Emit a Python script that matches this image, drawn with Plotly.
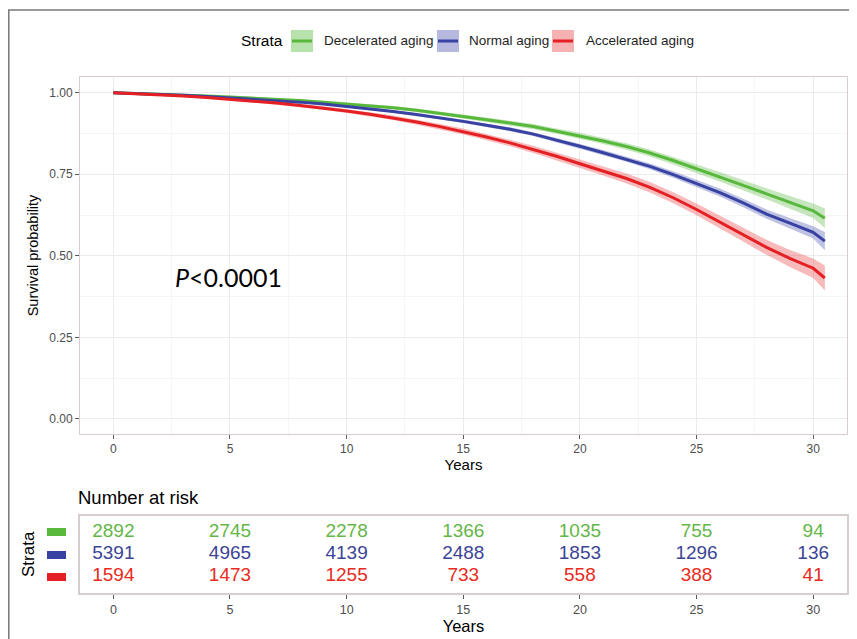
import plotly.graph_objects as go

# ---------------- data ----------------
years = [0, 1, 2, 3, 4, 5, 6, 7, 8, 9, 10, 11, 12, 13, 14, 15, 16, 17, 18, 19, 20,
         21, 22, 23, 24, 25, 26, 27, 28, 29, 30, 30.5]

surv_decel = [1.000, 0.998, 0.996, 0.993, 0.990, 0.987, 0.984, 0.980, 0.976, 0.971, 0.966,
              0.960, 0.954, 0.946, 0.937, 0.927, 0.917, 0.907, 0.896, 0.882, 0.868,
              0.852, 0.835, 0.815, 0.792, 0.767, 0.743, 0.716, 0.690, 0.664, 0.638, 0.615]
surv_normal = [1.000, 0.998, 0.995, 0.992, 0.988, 0.984, 0.980, 0.976, 0.971, 0.965, 0.958,
               0.951, 0.942, 0.933, 0.923, 0.912, 0.900, 0.888, 0.873, 0.855, 0.836,
               0.816, 0.796, 0.774, 0.749, 0.722, 0.694, 0.662, 0.628, 0.600, 0.572, 0.545]
surv_accel = [1.000, 0.997, 0.994, 0.990, 0.985, 0.980, 0.974, 0.968, 0.961, 0.953, 0.944,
              0.934, 0.923, 0.910, 0.896, 0.881, 0.864, 0.846, 0.826, 0.805, 0.782,
              0.760, 0.737, 0.710, 0.678, 0.642, 0.604, 0.565, 0.526, 0.492, 0.462, 0.432]

# half widths of the confidence bands
ci_decel = [0, 0.001, 0.001, 0.002, 0.002, 0.003, 0.003, 0.003, 0.004, 0.004, 0.004,
            0.005, 0.005, 0.005, 0.006, 0.006, 0.007, 0.007, 0.008, 0.008, 0.009,
            0.009, 0.010, 0.011, 0.012, 0.013, 0.014, 0.015, 0.017, 0.019, 0.022, 0.030]
ci_normal = [0, 0.001, 0.001, 0.001, 0.002, 0.002, 0.002, 0.002, 0.003, 0.003, 0.003,
             0.004, 0.004, 0.004, 0.005, 0.005, 0.005, 0.006, 0.006, 0.007, 0.007,
             0.008, 0.008, 0.009, 0.010, 0.011, 0.012, 0.013, 0.014, 0.016, 0.019, 0.028]
ci_accel = [0, 0.001, 0.002, 0.002, 0.003, 0.003, 0.004, 0.004, 0.005, 0.005, 0.006,
            0.006, 0.007, 0.008, 0.008, 0.009, 0.010, 0.010, 0.011, 0.012, 0.013,
            0.014, 0.015, 0.016, 0.017, 0.018, 0.019, 0.021, 0.023, 0.026, 0.030, 0.038]

strata_names = ["Decelerated aging", "Normal aging", "Accelerated aging"]

risk_times = [0, 5, 10, 15, 20, 25, 30]
risk_decel = [2892, 2745, 2278, 1366, 1035, 755, 94]
risk_normal = [5391, 4965, 4139, 2488, 1853, 1296, 136]
risk_accel = [1594, 1473, 1255, 733, 558, 388, 41]

x_ticks = [0, 5, 10, 15, 20, 25, 30]
y_ticks = [0, 0.25, 0.5, 0.75, 1.0]
y_ticktext = ["0.00", "0.25", "0.50", "0.75", "1.00"]

# ---------------- styling ----------------
# the page body has an 8px margin, so the figure is drawn 8px smaller and
# all pixel positions (measured on the 857x639 reference) are shifted by 8px
OX, OY = 8, 8
W, H = 857 - OX, 639 - OY
SANS = "Liberation Sans, Arial, sans-serif"
PFONT = "Lato, Open Sans, sans-serif"

line_cols = ["rgb(88,184,60)", "rgb(56,66,162)", "rgb(229,32,36)"]
fill_cols = ["rgba(92,184,66,0.35)", "rgba(70,80,175,0.35)", "rgba(232,60,60,0.35)"]
key_fill = ["rgb(184,226,172)", "rgb(182,184,222)", "rgb(246,178,178)"]
text_cols = ["rgb(100,182,72)", "rgb(60,68,150)", "rgb(232,42,32)"]


def px(x):
    return (x - OX) / W


def py(y):
    return 1 - (y - OY) / H


surv = [surv_decel, surv_normal, surv_accel]
cis = [ci_decel, ci_normal, ci_accel]
risks = [risk_decel, risk_normal, risk_accel]

fig = go.Figure()

# confidence bands
for i in range(3):
    lo = [s - c for s, c in zip(surv[i], cis[i])]
    hi = [s + c for s, c in zip(surv[i], cis[i])]
    fig.add_trace(go.Scatter(x=years, y=lo, mode="lines", line=dict(width=0),
                             showlegend=False, hoverinfo="skip", xaxis="x", yaxis="y"))
    fig.add_trace(go.Scatter(x=years, y=hi, mode="lines", line=dict(width=0),
                             fill="tonexty", fillcolor=fill_cols[i],
                             showlegend=False, hoverinfo="skip", xaxis="x", yaxis="y"))

# survival curves
for i in range(3):
    fig.add_trace(go.Scatter(x=years, y=surv[i], mode="lines", name=strata_names[i],
                             line=dict(color=line_cols[i], width=3),
                             showlegend=False, xaxis="x", yaxis="y"))

# risk table
for i in range(3):
    fig.add_trace(go.Scatter(x=risk_times, y=[2 - i] * len(risk_times), mode="text",
                             text=[str(v) for v in risks[i]],
                             textposition="middle center",
                             textfont=dict(family=SANS, size=19, color=text_cols[i]),
                             showlegend=False, hoverinfo="skip", xaxis="x2", yaxis="y2"))

x_dom = [px(80), px(847)]
grid_major = "rgb(235,235,235)"
grid_minor = "rgb(245,245,245)"
border = "rgb(215,205,205)"
tick_font = dict(family=SANS, size=12, color="rgb(77,77,77)")
tick_font2 = dict(family=SANS, size=12.5, color="rgb(77,77,77)")

fig.update_layout(
    width=W, height=H, autosize=False,
    margin=dict(l=0, r=0, t=0, b=0),
    paper_bgcolor="white", plot_bgcolor="white",
    showlegend=False,
    xaxis=dict(domain=x_dom, range=[-1.43, 31.45], tickvals=x_ticks,
               ticks="outside", ticklen=4, tickcolor="rgb(90,90,90)",
               tickfont=tick_font,
               showgrid=True, gridcolor=grid_major, gridwidth=1.2,
               minor=dict(tickvals=[2.5, 7.5, 12.5, 17.5, 22.5, 27.5], showgrid=True,
                          gridcolor=grid_minor, gridwidth=1),
               showline=True, mirror=True, linecolor=border, linewidth=1,
               zeroline=False, anchor="y",
               title=dict(text="Years", standoff=3,
                          font=dict(family=SANS, size=15, color="black"))),
    yaxis=dict(domain=[py(434), py(77)], range=[-0.046, 1.048], tickvals=y_ticks,
               ticktext=y_ticktext,
               ticks="outside", ticklen=4, tickcolor="rgb(90,90,90)",
               tickfont=tick_font,
               showgrid=True, gridcolor=grid_major, gridwidth=1.2,
               minor=dict(tickvals=[0.125, 0.375, 0.625, 0.875], showgrid=True,
                          gridcolor=grid_minor, gridwidth=1),
               showline=True, mirror=True, linecolor=border, linewidth=1,
               zeroline=False, anchor="x",
               title=dict(text="Survival probability", standoff=7,
                          font=dict(family=SANS, size=14.5, color="black"))),
    xaxis2=dict(domain=x_dom, range=[-1.43, 31.45], tickvals=x_ticks,
                ticks="outside", ticklen=4, tickcolor="rgb(90,90,90)",
                tickfont=tick_font2,
                showgrid=False, showline=True, mirror=True, linecolor=border,
                linewidth=1.5, zeroline=False, anchor="y2",
                title=dict(text="Years", standoff=0,
                           font=dict(family=SANS, size=16.5, color="black"))),
    yaxis2=dict(domain=[py(593), py(516)], range=[-0.74, 2.74], showticklabels=False,
                ticks="", showgrid=False, showline=True, mirror=True, linecolor=border,
                linewidth=1.5, zeroline=False, anchor="x2"),
)

shapes = []
annotations = []

# outer frame
shapes.append(dict(type="rect", xref="paper", yref="paper", x0=px(8.8), x1=px(852),
                   y0=py(660), y1=py(10), line=dict(color="rgb(120,120,120)", width=1.5)))

# legend (manual, ggplot style keys)
annotations.append(dict(text="Strata", x=px(239), y=py(41), xref="paper", yref="paper",
                        xanchor="left", yanchor="middle", showarrow=False,
                        font=dict(family=SANS, size=15.5, color="black")))
key_x = [291, 437, 552]
lab_x = [322, 467, 584]
for i in range(3):
    shapes.append(dict(type="rect", xref="paper", yref="paper",
                       x0=px(key_x[i]), x1=px(key_x[i] + 22), y0=py(52), y1=py(30),
                       fillcolor=key_fill[i], line=dict(width=0)))
    shapes.append(dict(type="line", xref="paper", yref="paper",
                       x0=px(key_x[i] + 1), x1=px(key_x[i] + 21), y0=py(41), y1=py(41),
                       line=dict(color=line_cols[i], width=3)))
    annotations.append(dict(text=strata_names[i], x=px(lab_x[i]), y=py(41),
                            xref="paper", yref="paper", xanchor="left", yanchor="middle",
                            showarrow=False,
                            font=dict(family=SANS, size=13.5, color="rgb(30,30,30)")))

# p value
annotations.append(dict(text="<i>P</i><0.0001", x=px(228), y=py(277), xref="paper",
                        yref="paper", xanchor="center", yanchor="middle", showarrow=False,
                        font=dict(family=PFONT, size=25, color="black")))

# risk table title and strata labels
annotations.append(dict(text="Number at risk", x=px(76), y=py(497), xref="paper",
                        yref="paper", xanchor="left", yanchor="middle", showarrow=False,
                        font=dict(family=SANS, size=18.5, color="black")))
annotations.append(dict(text="Strata", x=px(28), y=py(554), xref="paper", yref="paper",
                        xanchor="center", yanchor="middle", textangle=-90,
                        showarrow=False, font=dict(family=SANS, size=17, color="black")))
row_y = [532, 555, 577]
for i in range(3):
    shapes.append(dict(type="rect", xref="paper", yref="paper",
                       x0=px(47), x1=px(66), y0=py(row_y[i] + 4), y1=py(row_y[i] - 4),
                       fillcolor=line_cols[i], line=dict(width=0)))

fig.update_layout(shapes=shapes, annotations=annotations)

fig.write_html("out.html")
